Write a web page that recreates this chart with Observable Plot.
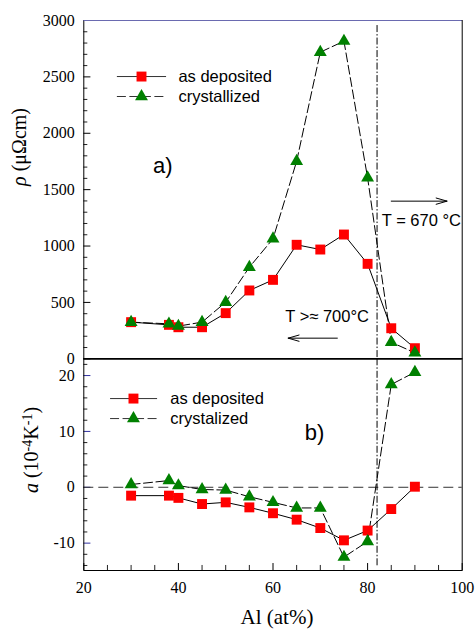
<!DOCTYPE html>
<html><head><meta charset="utf-8">
<script src="https://cdn.jsdelivr.net/npm/d3@7"></script>
<script src="https://cdn.jsdelivr.net/npm/@observablehq/plot@0.6"></script>
<style>
body{margin:0;background:#fff;}
#wrap{position:relative;width:475px;height:630px;overflow:hidden;background:#fff;}
#wrap svg{position:absolute;left:0;top:0;}
.lab{position:absolute;font-family:"Liberation Serif",serif;color:#000;white-space:nowrap;line-height:1;}
.lab sup{font-size:0.7em;vertical-align:0.45em;line-height:0;}
</style></head><body><div id="wrap"></div>
<script>
// ---- data ----
const al = [30, 38, 40, 45, 50, 55, 60, 65, 70, 75, 80, 85, 90];
const rhoDeposited = [325, 301, 280, 280, 405, 606, 700, 1011, 969, 1102, 842, 271, 94];
const rhoCrystallized = [325, 310, 290, 325, 502, 812, 1064, 1752, 2719, 2817, 1605, 147, 53];
const alphaDeposited = [-1.5, -1.5, -1.9, -3.0, -2.7, -3.6, -4.65, -5.8, -7.3, -9.5, -7.75, -3.9, 0.1];
const alphaCrystallized = [0.5, 1.2, 0.3, -0.4, -0.5, -1.7, -2.7, -3.7, -3.7, -12.5, -9.7, 18.4, 20.6];

// tick labels
const xMajor = [20, 40, 60, 80, 100];
const xMinor = [25, 30, 35, 45, 50, 55, 65, 70, 75, 85, 90, 95];
const rhoMajor = [0, 500, 1000, 1500, 2000, 2500, 3000];
const rhoMinor = d3.range(100, 3000, 100).filter(v => v % 500 !== 0);
const alphaMajor = [-10, 0, 10, 20];
const alphaMinor = [-14, -12, -8, -6, -4, -2, 2, 4, 6, 8, 12, 14, 16, 18, 22];

const transitionAl = 82;
const rows = al.map((x, i) => ({al: x, rd: rhoDeposited[i], rc: rhoCrystallized[i], ad: alphaDeposited[i], ac: alphaCrystallized[i]}));

const W = 475, H = 630, ML = 83.3, MR = 13.3;
const RED = "#ff0000", GREEN = "#008000";
const SANS = "Liberation Sans, Arial, sans-serif";
const SERIF = "Liberation Serif, Times New Roman, serif";
const DASH = "9,3.5", DASHDOT = "7,2,1.5,2";
const sqR = 5.6, triR = 4.8;

// ---- top panel: resistivity ----
const topPlot = Plot.plot({
  width: W, height: H, marginLeft: ML, marginRight: MR, marginTop: 20, marginBottom: H - 358.3,
  style: {fontFamily: SERIF, fontSize: "16px", background: "transparent", overflow: "visible"},
  x: {domain: [20, 100], axis: null},
  y: {domain: [0, 3000]},
  marks: [
    Plot.axisY({ticks: rhoMajor, tickSize: 0, tickPadding: 9, label: null, tickFormat: d => String(d), fontSize: 16, fontFamily: SERIF, fill: "#000"}),
    Plot.ruleY(rhoMinor, {x1: 20, x2: 20.85, stroke: "#222"}),
    Plot.ruleY(rhoMajor, {x1: 20, x2: 21.5, stroke: "#000"}),
    Plot.ruleX([transitionAl], {y1: 2955, y2: 0, stroke: "#000", strokeDasharray: DASHDOT}),
    Plot.line(rows, {x: "al", y: "rd", stroke: "#000", strokeWidth: 1}),
    Plot.line(rows, {x: "al", y: "rc", stroke: "#000", strokeWidth: 1, strokeDasharray: DASH}),
    Plot.dot(rows, {x: "al", y: "rd", symbol: "square", r: sqR, fill: RED, stroke: "none"}),
    Plot.dot(rows, {x: "al", y: "rc", symbol: "triangle", r: triR, fill: GREEN, stroke: "none"}),
    // legend
    Plot.ruleY([2503], {x1: 27.1, x2: 37.5, stroke: "#333"}),
    Plot.ruleY([2326], {x1: 27.1, x2: 37.5, stroke: "#333", strokeDasharray: DASH}),
    Plot.dot([{x: 32.2, y: 2503}], {x: "x", y: "y", symbol: "square", r: sqR, fill: RED}),
    Plot.dot([{x: 32.2, y: 2326}], {x: "x", y: "y", symbol: "triangle", r: triR, fill: GREEN}),
    Plot.text([{x: 40, y: 2503, t: "as deposited"}, {x: 40, y: 2326, t: "crystallized"}],
      {x: "x", y: "y", text: "t", textAnchor: "start", fontFamily: SANS, fontSize: 16.5, fill: "#000"}),
    Plot.text([{x: 36.7, y: 1711, t: "a)"}], {x: "x", y: "y", text: "t", fontFamily: SANS, fontSize: 22, fill: "#000"}),
    // annotations
    Plot.text([{x: 83.0, y: 1226, t: "T = 670 °C"}, {x: 62.6, y: 369, t: "T >≈ 700°C"}],
      {x: "x", y: "y", text: "t", textAnchor: "start", fontFamily: SANS, fontSize: 16.5, fill: "#000"}),
    Plot.arrow([{x1: 85.0, x2: 96.8, y: 1398}, {x1: 73.6, x2: 63.2, y: 183}],
      {x1: "x1", x2: "x2", y1: "y", y2: "y", stroke: "#000", strokeWidth: 1, headLength: 17, headAngle: 32}),
    Plot.frame({stroke: "#000"}),
    Plot.ruleY([3000], {stroke: "#6a6ab0"}),
    Plot.ruleY([0], {stroke: "#000", strokeWidth: 1.6})
  ]
});

// ---- bottom panel: temperature coefficient ----
const botPlot = Plot.plot({
  width: W, height: H, marginLeft: ML, marginRight: MR, marginTop: 358.3, marginBottom: 60,
  style: {fontFamily: SERIF, fontSize: "16px", background: "transparent", overflow: "visible"},
  x: {domain: [20, 100]},
  y: {domain: [-14.9, 23]},
  marks: [
    Plot.axisX({ticks: xMajor, tickSize: 0, tickPadding: 11, label: null, tickFormat: d => String(d), fontSize: 16, fontFamily: SERIF, fill: "#000"}),
    Plot.axisY({ticks: alphaMajor, tickSize: 0, tickPadding: 9, label: null, tickFormat: d => String(d), fontSize: 16, fontFamily: SERIF, fill: "#000"}),
    Plot.ruleY(alphaMinor, {x1: 20, x2: 20.85, stroke: "#222"}),
    Plot.ruleY(alphaMajor, {x1: 20, x2: 21.5, stroke: "#3030a0"}),
    Plot.ruleX(xMinor, {y1: -14.9, y2: -14.0, stroke: "#222"}),
    Plot.ruleX(xMajor, {y1: -14.9, y2: -13.65, stroke: "#000"}),
    Plot.ruleY([0], {stroke: "#333", strokeDasharray: "10,5"}),
    Plot.ruleX([transitionAl], {y1: 23, y2: -14.1, stroke: "#000", strokeDasharray: DASHDOT}),
    Plot.line(rows, {x: "al", y: "ad", stroke: "#000", strokeWidth: 1}),
    Plot.line(rows, {x: "al", y: "ac", stroke: "#000", strokeWidth: 1, strokeDasharray: DASH}),
    Plot.dot(rows, {x: "al", y: "ad", symbol: "square", r: sqR, fill: RED, stroke: "none"}),
    Plot.dot(rows, {x: "al", y: "ac", symbol: "triangle", r: triR, fill: GREEN, stroke: "none"}),
    // legend
    Plot.ruleY([15.88], {x1: 25.66, x2: 35.6, stroke: "#333"}),
    Plot.ruleY([12.3], {x1: 25.66, x2: 35.6, stroke: "#333", strokeDasharray: DASH}),
    Plot.dot([{x: 30.5, y: 15.88}], {x: "x", y: "y", symbol: "square", r: sqR, fill: RED}),
    Plot.dot([{x: 30.5, y: 12.3}], {x: "x", y: "y", symbol: "triangle", r: triR, fill: GREEN}),
    Plot.text([{x: 38.3, y: 15.88, t: "as deposited"}, {x: 38.3, y: 12.3, t: "crystalized"}],
      {x: "x", y: "y", text: "t", textAnchor: "start", fontFamily: SANS, fontSize: 16.5, fill: "#000"}),
    Plot.text([{x: 68.8, y: 9.8, t: "b)"}], {x: "x", y: "y", text: "t", fontFamily: SANS, fontSize: 22, fill: "#000"}),
    Plot.frame({stroke: "#000"})
  ]
});

// make sure tick labels use the serif face
for (const svg of [topPlot, botPlot]) {
  svg.querySelectorAll('g[aria-label$="tick label"]').forEach(g => {
    g.style.fontFamily = '"Liberation Serif", "Times New Roman", serif';
  });
}

const wrap = document.getElementById("wrap");
wrap.appendChild(botPlot);
wrap.appendChild(topPlot);

function addLabel(html, cx, cy, size, rotate) {
  const d = document.createElement("div");
  d.className = "lab";
  d.innerHTML = html;
  d.style.fontSize = size + "px";
  d.style.left = cx + "px";
  d.style.top = cy + "px";
  d.style.transform = "translate(-50%,-50%)" + (rotate ? " rotate(-90deg)" : "");
  wrap.appendChild(d);
}
addLabel("<i>ρ</i> (μΩcm)", 19, 147, 20, true);
addLabel("<i>a</i> (10<sup>-4</sup>K<sup>-1</sup>)", 31, 450, 20, true);
addLabel("Al (at%)", 277, 617, 21, false);
</script></body></html>
